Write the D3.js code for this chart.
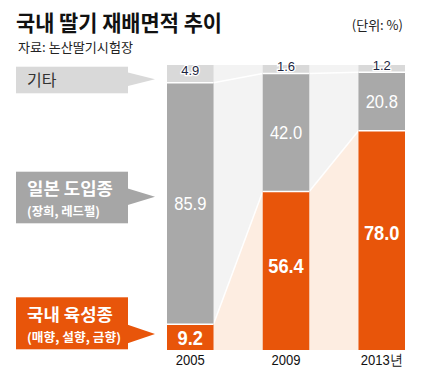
<!DOCTYPE html>
<html><head><meta charset="utf-8">
<script src="https://cdn.jsdelivr.net/npm/d3@7"></script>
<style>body{margin:0;background:#fff} svg{display:block}</style>
</head><body><svg id="c" width="433" height="378"></svg>
<script>
// ---- data ----
const years = ["2005", "2009", "2013"];
const yearLabels = ["2005", "2009", "2013년"];
const domestic = [9.2, 56.4, 78.0];   // 국내 육성종
const japanese = [85.9, 42.0, 20.8];  // 일본 도입종
const other = [4.9, 1.6, 1.2];        // 기타
const seriesNames = ["기타", "일본 도입종", "국내 육성종"];
const seriesSub = ["", "(장희, 레드펄)", "(매향, 설향, 금향)"];
const title = "국내 딸기 재배면적 추이";
const unit = "(단위: %)";
const source = "자료: 논산딸기시험장";

// ---- style ----
const C = {orange:"#e8550a", gray:"#a9a9a9", band:"#d9d9d9", bg:"#f3f3f3", peach:"#fdede1", dark:"#222"};
const KR = "'Noto Sans CJK KR','Noto Sans',sans-serif";
const NUM = "'Liberation Sans',Arial,sans-serif";
const bandPad = 4;

const svg = d3.select("#c");
const x = d3.scaleBand().domain(years).range([167, 405]).paddingInner(0.514).paddingOuter(0);
const y = d3.scaleLinear().domain([0, 100]).range([350, 69]);
const bw = x.bandwidth();
const top0 = y(100) - bandPad;

function numText(cx, yy, str, size, weight, fill, sx) {
  return svg.append("text").attr("transform", `translate(${cx},${yy}) scale(${sx},1)`)
    .attr("text-anchor", "middle").attr("font-family", NUM).attr("font-size", size)
    .attr("font-weight", weight).attr("fill", fill).text(str);
}

// background
svg.append("rect").attr("x", x(years[0])).attr("y", top0)
  .attr("width", x(years[years.length-1]) + bw - x(years[0])).attr("height", y(0) - top0)
  .attr("fill", C.bg);

// connectors
for (let i = 0; i < years.length - 1; i++) {
  const x0 = x(years[i]) + bw, x1 = x(years[i+1]);
  svg.append("polygon").attr("fill", C.peach)
    .attr("points", [[x0, y(0)], [x0, y(domestic[i])], [x1, y(domestic[i+1])], [x1, y(0)]].join(" "));
  svg.append("line").attr("x1", x0).attr("y1", y(domestic[i])).attr("x2", x1).attr("y2", y(domestic[i+1]))
    .attr("stroke", "#fff").attr("stroke-width", 1.5);
  svg.append("line").attr("x1", x0).attr("y1", y(domestic[i] + japanese[i]))
    .attr("x2", x1).attr("y2", y(domestic[i+1] + japanese[i+1]))
    .attr("stroke", "#fff").attr("stroke-width", 1.5);
}

// bars
years.forEach((yr, i) => {
  const bx = x(yr);
  const yD = y(domestic[i]), yJ = y(domestic[i] + japanese[i]);
  svg.append("rect").attr("x", bx).attr("y", top0).attr("width", bw).attr("height", yJ - top0).attr("fill", C.band);
  svg.append("rect").attr("x", bx).attr("y", yJ).attr("width", bw).attr("height", yD - yJ).attr("fill", C.gray);
  svg.append("rect").attr("x", bx).attr("y", yD).attr("width", bw).attr("height", y(0) - yD).attr("fill", C.orange);
  [yJ, yD].forEach(yy => svg.append("line").attr("x1", bx).attr("x2", bx + bw).attr("y1", yy).attr("y2", yy)
    .attr("stroke", "#fff").attr("stroke-width", 1.5));

  // labels
  const cx = bx + bw / 2;
  numText(cx, (top0 + yJ) / 2 + 1.5, other[i].toFixed(1), 13, "normal", "#1c2540", 1)
    .attr("stroke", "#fff").attr("stroke-width", 2.5).attr("paint-order", "stroke");
  numText(cx, (yJ + yD) / 2 + 6.8, japanese[i].toFixed(1), 19, "normal", "#fff", 0.87);
  const h = y(0) - yD;
  numText(cx, yD + h / 2 - h * 0.04 + 8.5, domestic[i].toFixed(1), 21, "bold", "#fff", 0.87);
  numText(cx, 365, yearLabels[i], 15, "normal", "#111", 0.87);
});

// legend callouts
const boxes = [
  {y0: 66.7, y1: 93.3, ay: 79.3, hh: 7, fill: C.band},
  {y0: 171.7, y1: 223.3, ay: 196.7, hh: 8.5, fill: "#a6a6a6"},
  {y0: 297.3, y1: 349.3, ay: 334, hh: 9.5, fill: C.orange}
];
boxes.forEach(b => {
  svg.append("rect").attr("x", 16).attr("y", b.y0).attr("width", 112).attr("height", b.y1 - b.y0).attr("fill", b.fill);
  svg.append("polygon").attr("fill", b.fill)
    .attr("points", [[127, b.ay - b.hh], [155, b.ay], [127, b.ay + b.hh]].join(" "));
});
svg.append("text").attr("x", 27).attr("y", 86).attr("font-family", KR).attr("font-size", 16)
  .attr("fill", "#333").text(seriesNames[0]);
svg.append("text").attr("x", 27).attr("y", 195).attr("font-family", KR).attr("font-size", 16.5).attr("font-weight", "bold")
  .attr("fill", "#fff").attr("textLength", 86).attr("lengthAdjust", "spacingAndGlyphs").text(seriesNames[1]);
svg.append("text").attr("x", 27).attr("y", 215.5).attr("font-family", KR).attr("font-size", 12.5).attr("font-weight", "bold")
  .attr("fill", "#fff").attr("textLength", 73).attr("lengthAdjust", "spacingAndGlyphs").text(seriesSub[1]);
svg.append("text").attr("x", 27).attr("y", 320.5).attr("font-family", KR).attr("font-size", 16.5).attr("font-weight", "bold")
  .attr("fill", "#fff").attr("textLength", 86).attr("lengthAdjust", "spacingAndGlyphs").text(seriesNames[2]);
svg.append("text").attr("x", 27).attr("y", 342).attr("font-family", KR).attr("font-size", 12.5).attr("font-weight", "bold")
  .attr("fill", "#fff").attr("textLength", 94).attr("lengthAdjust", "spacingAndGlyphs").text(seriesSub[2]);

// titles
svg.append("text").attr("x", 16).attr("y", 31).attr("font-family", KR).attr("font-size", 22).attr("font-weight", "bold")
  .attr("fill", "#111").attr("textLength", 206).attr("lengthAdjust", "spacingAndGlyphs").text(title);
svg.append("text").attr("x", 403).attr("y", 30).attr("text-anchor", "end").attr("font-family", KR).attr("font-size", 13)
  .attr("fill", "#222").text(unit);
svg.append("text").attr("x", 18).attr("y", 52).attr("font-family", KR).attr("font-size", 13)
  .attr("fill", "#222").attr("textLength", 115).attr("lengthAdjust", "spacingAndGlyphs").text(source);
</script>
</body></html>
